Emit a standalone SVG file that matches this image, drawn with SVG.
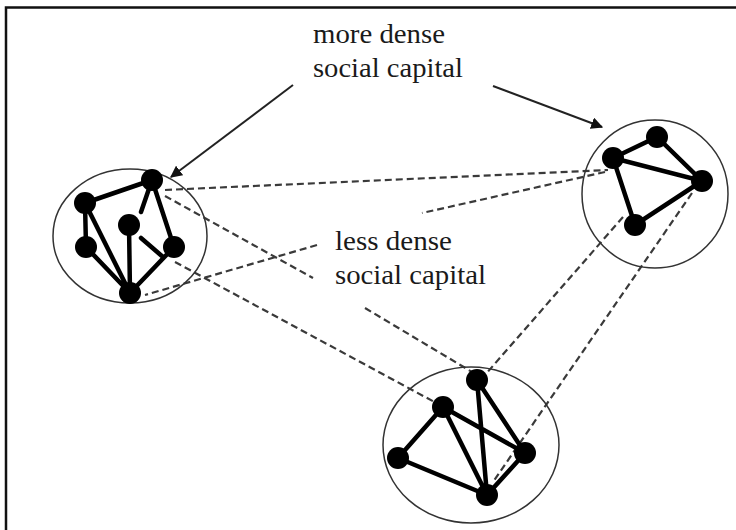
<svg xmlns="http://www.w3.org/2000/svg" width="736" height="530" viewBox="0 0 736 530">
<style>
.frame{stroke:#111;stroke-width:2.5;fill:none}
.ring{fill:none;stroke:#333;stroke-width:1.5}
.edge{stroke:#000;stroke-width:4.5;stroke-linecap:round;fill:none}
.node{fill:#000}
.dash{stroke:#3a3a3a;stroke-width:2.2;stroke-dasharray:7 4;fill:none}
.arrow{stroke:#222;stroke-width:2;fill:none}
.lbl{font-family:"Liberation Serif","Times New Roman",serif;font-size:27px;fill:#1a1a1a}
</style>
<defs>
<marker id="ah" viewBox="0 0 10 10" refX="9" refY="5" markerWidth="6" markerHeight="6" orient="auto" markerUnits="strokeWidth">
<path d="M0,0 L10,5 L0,10 z" fill="#111"/>
</marker>
</defs>
<rect width="736" height="530" fill="#fff"/>
<path class="frame" d="M6,530 V7.5 H736"/>
<g id="connectors">
<line class="dash" x1="165" y1="190" x2="608" y2="170"/>
<line class="dash" x1="605" y1="172" x2="422" y2="213"/>
<line class="dash" x1="317" y1="245" x2="145" y2="295"/>
<line class="dash" x1="165" y1="196" x2="313" y2="278"/>
<line class="dash" x1="365" y1="308" x2="472" y2="372"/>
<line class="dash" x1="175" y1="262" x2="440" y2="405"/>
<line class="dash" x1="623" y1="217" x2="485" y2="375"/>
<line class="dash" x1="692" y1="193" x2="493" y2="482"/>
<line class="arrow" x1="293" y1="85" x2="171" y2="177" marker-end="url(#ah)"/>
<line class="arrow" x1="493" y1="86" x2="602" y2="127" marker-end="url(#ah)"/>
</g>
<g id="cluster-left">
<ellipse class="ring" cx="130" cy="236" rx="77" ry="67"/>
<path class="edge" d="M152,180 L85,203 M152,180 L174,247 M152,180 L141,212 M85,203 L86,247 M85,203 L130,293 M86,247 L130,293 M129,225 L130,293 M174,247 L130,293 M141,238 L163,257"/>
<circle class="node" cx="152" cy="180" r="11"/>
<circle class="node" cx="85" cy="203" r="11"/>
<circle class="node" cx="129" cy="225" r="11"/>
<circle class="node" cx="86" cy="247" r="11"/>
<circle class="node" cx="174" cy="247" r="11"/>
<circle class="node" cx="130" cy="293" r="11"/>
</g>
<g id="cluster-right">
<ellipse class="ring" cx="655" cy="194" rx="73" ry="74"/>
<path class="edge" d="M613,158 L657,137 L702,181 L613,158 L635,225 L702,181"/>
<circle class="node" cx="657" cy="137" r="11"/>
<circle class="node" cx="613" cy="158" r="11"/>
<circle class="node" cx="702" cy="181" r="11"/>
<circle class="node" cx="635" cy="225" r="11"/>
</g>
<g id="cluster-bottom">
<ellipse class="ring" cx="471" cy="445" rx="88" ry="78"/>
<path class="edge" d="M477,380 L525,453 M477,380 L487,495 M443,407 L398,458 M443,407 L525,453 M443,407 L487,495 M398,458 L487,495 M525,453 L487,495"/>
<circle class="node" cx="477" cy="380" r="11"/>
<circle class="node" cx="443" cy="407" r="11"/>
<circle class="node" cx="398" cy="458" r="11"/>
<circle class="node" cx="525" cy="453" r="11"/>
<circle class="node" cx="487" cy="495" r="11"/>
</g>
<g id="label-more">
<text class="lbl" x="313" y="43" textLength="132" lengthAdjust="spacingAndGlyphs">more dense</text>
<text class="lbl" x="313" y="77" textLength="150" lengthAdjust="spacingAndGlyphs">social capital</text>
</g>
<g id="label-less">
<text class="lbl" x="335" y="250" textLength="117" lengthAdjust="spacingAndGlyphs">less dense</text>
<text class="lbl" x="335" y="284" textLength="151" lengthAdjust="spacingAndGlyphs">social capital</text>
</g>
</svg>
